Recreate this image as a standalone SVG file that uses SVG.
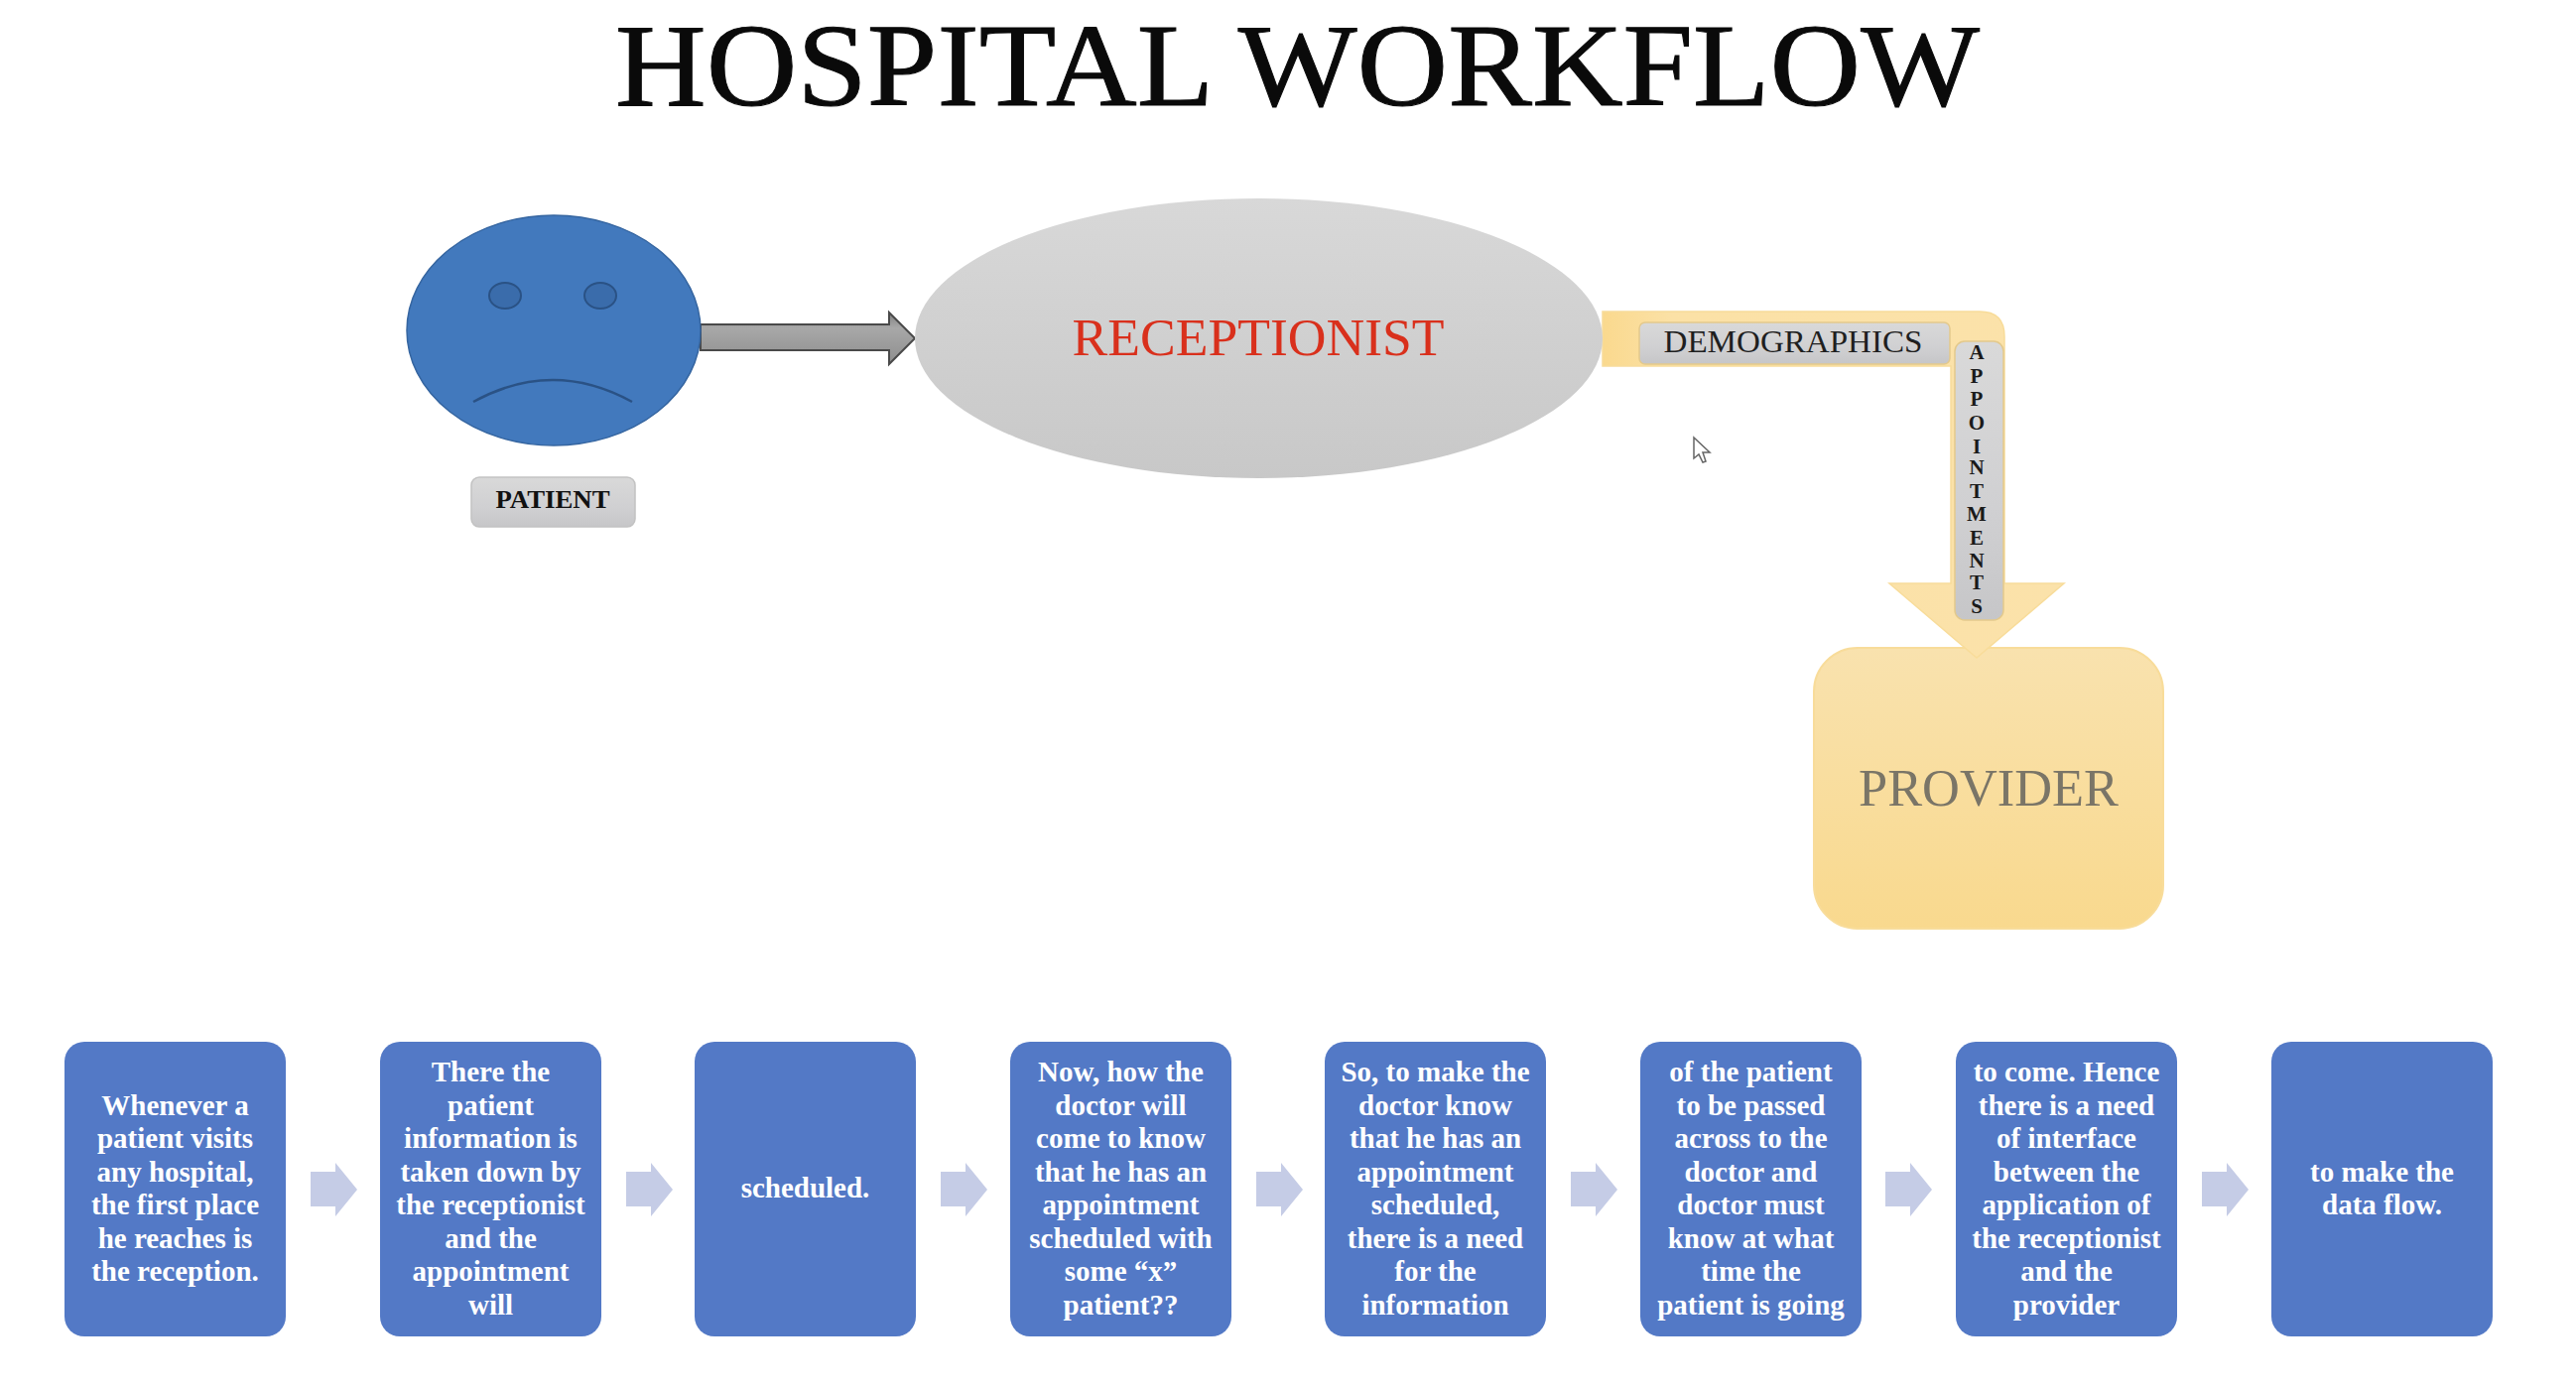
<svg xmlns="http://www.w3.org/2000/svg" width="2596" height="1400" viewBox="0 0 2596 1400">
<style>
text{font-family:"Liberation Serif","Times New Roman",serif;text-anchor:middle}
.step{fill:#5379c6}
.st{fill:#fff;font-weight:700;font-size:29px}
.chev{fill:#c5cce6}
.label{stroke:#c2c2c2;stroke-width:1.5}
.ap{font-size:21px;font-weight:700;fill:#1a1a1a}
</style>
<defs>
<linearGradient id="grey" x1="0" y1="0" x2="0" y2="1"><stop offset="0" stop-color="#d8d8d8"/><stop offset="1" stop-color="#c8c8c8"/></linearGradient>
<linearGradient id="lab" x1="0" y1="0" x2="0" y2="1"><stop offset="0" stop-color="#d9d9d9"/><stop offset=".6" stop-color="#d0d0d2"/><stop offset="1" stop-color="#c6c6c8"/></linearGradient>
<linearGradient id="gold" x1="0" y1="0" x2="0" y2="1"><stop offset="0" stop-color="#f9e2ae"/><stop offset="1" stop-color="#f9d98e"/></linearGradient>
<linearGradient id="bent" x1="0" y1="0" x2="1" y2="0"><stop offset="0" stop-color="#fad98e"/><stop offset=".15" stop-color="#fbe1a6"/><stop offset="1" stop-color="#fbe2aa"/></linearGradient>
<linearGradient id="shaft" x1="0" y1="0" x2="0" y2="1"><stop offset="0" stop-color="#808080"/><stop offset=".3" stop-color="#a8a8a8"/><stop offset="1" stop-color="#8e8e8e"/></linearGradient>
</defs>
<text x="1307.500" y="106" font-size="119" fill="#0a0a0a" stroke="#0a0a0a" stroke-width="1" textLength="1375" lengthAdjust="spacingAndGlyphs">HOSPITAL WORKFLOW</text>
<g id="provider">
<rect x="1828" y="653" width="352" height="283" rx="44" fill="url(#gold)" stroke="#f8dc9a" stroke-width="2"/>
<text x="2004" y="812" font-size="53" fill="#7a7567" textLength="262" lengthAdjust="spacingAndGlyphs">PROVIDER</text>
</g>
<g id="connectors">
<path id="patient-arrow" d="M706 327H896V315L922 341L896 367V353H706Z" fill="url(#shaft)" stroke="#4a4a4a" stroke-width="2"/>
<path id="bent-arrow" d="M1615 314H1995Q2020 314 2020 339V588H2080L1992 663L1904 588H1966V369H1615Z" fill="url(#bent)" stroke="#f8dc9a" stroke-width="1.5"/>
<path class="chev" d="M313 1181H338V1172L360 1199L338 1226V1216H313Z"/>
<path class="chev" d="M631 1181H656V1172L678 1199L656 1226V1216H631Z"/>
<path class="chev" d="M948 1181H973V1172L995 1199L973 1226V1216H948Z"/>
<path class="chev" d="M1266 1181H1291V1172L1313 1199L1291 1226V1216H1266Z"/>
<path class="chev" d="M1583 1181H1608V1172L1630 1199L1608 1226V1216H1583Z"/>
<path class="chev" d="M1900 1181H1925V1172L1947 1199L1925 1226V1216H1900Z"/>
<path class="chev" d="M2219 1181H2244V1172L2266 1199L2244 1226V1216H2219Z"/>
</g>
<g id="patient">
<ellipse cx="558" cy="333" rx="148" ry="116" fill="#4279bd" stroke="#3565a0" stroke-width="1.5"/>
<ellipse cx="509" cy="298" rx="16" ry="13" fill="#3a6cab" stroke="#2a5285" stroke-width="2"/>
<ellipse cx="605" cy="298" rx="16" ry="13" fill="#3a6cab" stroke="#2a5285" stroke-width="2"/>
<path d="M477 405Q557 361 637 405" fill="none" stroke="#2a5285" stroke-width="2.5"/>
</g>
<g id="patient-label">
<rect class="label" x="475" y="481" width="165" height="50" rx="8" fill="url(#lab)"/>
<text x="557" y="512" font-size="26" font-weight="700" fill="#111" textLength="115" lengthAdjust="spacingAndGlyphs">PATIENT</text>
</g>
<g id="receptionist">
<ellipse cx="1268.500" cy="341" rx="346.500" ry="141" fill="url(#grey)"/>
<text x="1268" y="358" font-size="53" fill="#d9301c" textLength="375" lengthAdjust="spacingAndGlyphs">RECEPTIONIST</text>
</g>
<g id="demographics">
<rect x="1652" y="325" width="313" height="42" rx="6" fill="url(#lab)" stroke="#e3c98c" stroke-width="1.5"/>
<text x="1807" y="355" font-size="31" fill="#1f1f1f" textLength="261" lengthAdjust="spacingAndGlyphs">DEMOGRAPHICS</text>
</g>
<g id="appointments">
<rect x="1970" y="344" width="49" height="281" rx="10" fill="url(#lab)" stroke="#e3c98c" stroke-width="1.5"/>
<g class="ap">
<text x="1992" y="362">A</text><text x="1992" y="386">P</text><text x="1992" y="409">P</text><text x="1992" y="433">O</text><text x="1992" y="457">I</text><text x="1992" y="478">N</text><text x="1992" y="502">T</text><text x="1992" y="525">M</text><text x="1992" y="549">E</text><text x="1992" y="572">N</text><text x="1992" y="594">T</text><text x="1992" y="618">S</text>
</g>
</g>
<g id="cursor">
<path d="M1707 441V462L1712 458L1716 466L1719 465L1716 456L1723 456Z" fill="#fff" stroke="#666" stroke-width="1.5"/>
</g>
<g id="step1">
<rect class="step" x="65" y="1050" width="223" height="297" rx="20"/>
<text class="st" x="176.500" y="1124">Whenever a</text><text class="st" x="176.500" y="1157">patient visits</text><text class="st" x="176.500" y="1191">any hospital,</text><text class="st" x="176.500" y="1224">the first place</text><text class="st" x="176.500" y="1258">he reaches is</text><text class="st" x="176.500" y="1291">the reception.</text>
</g>
<g id="step2">
<rect class="step" x="383" y="1050" width="223" height="297" rx="20"/>
<text class="st" x="494.500" y="1090">There the</text><text class="st" x="494.500" y="1124">patient</text><text class="st" x="494.500" y="1157">information is</text><text class="st" x="494.500" y="1191">taken down by</text><text class="st" x="494.500" y="1224">the receptionist</text><text class="st" x="494.500" y="1258">and the</text><text class="st" x="494.500" y="1291">appointment</text><text class="st" x="494.500" y="1325">will</text>
</g>
<g id="step3">
<rect class="step" x="700" y="1050" width="223" height="297" rx="20"/>
<text class="st" x="811.500" y="1207">scheduled.</text>
</g>
<g id="step4">
<rect class="step" x="1018" y="1050" width="223" height="297" rx="20"/>
<text class="st" x="1129.500" y="1090">Now, how the</text><text class="st" x="1129.500" y="1124">doctor will</text><text class="st" x="1129.500" y="1157">come to know</text><text class="st" x="1129.500" y="1191">that he has an</text><text class="st" x="1129.500" y="1224">appointment</text><text class="st" x="1129.500" y="1258">scheduled with</text><text class="st" x="1129.500" y="1291">some “x”</text><text class="st" x="1129.500" y="1325">patient??</text>
</g>
<g id="step5">
<rect class="step" x="1335" y="1050" width="223" height="297" rx="20"/>
<text class="st" x="1446.500" y="1090">So, to make the</text><text class="st" x="1446.500" y="1124">doctor know</text><text class="st" x="1446.500" y="1157">that he has an</text><text class="st" x="1446.500" y="1191">appointment</text><text class="st" x="1446.500" y="1224">scheduled,</text><text class="st" x="1446.500" y="1258">there is a need</text><text class="st" x="1446.500" y="1291">for the</text><text class="st" x="1446.500" y="1325">information</text>
</g>
<g id="step6">
<rect class="step" x="1653" y="1050" width="223" height="297" rx="20"/>
<text class="st" x="1764.500" y="1090">of the patient</text><text class="st" x="1764.500" y="1124">to be passed</text><text class="st" x="1764.500" y="1157">across to the</text><text class="st" x="1764.500" y="1191">doctor and</text><text class="st" x="1764.500" y="1224">doctor must</text><text class="st" x="1764.500" y="1258">know at what</text><text class="st" x="1764.500" y="1291">time the</text><text class="st" x="1764.500" y="1325">patient is going</text>
</g>
<g id="step7">
<rect class="step" x="1971" y="1050" width="223" height="297" rx="20"/>
<text class="st" x="2082.500" y="1090">to come. Hence</text><text class="st" x="2082.500" y="1124">there is a need</text><text class="st" x="2082.500" y="1157">of interface</text><text class="st" x="2082.500" y="1191">between the</text><text class="st" x="2082.500" y="1224">application of</text><text class="st" x="2082.500" y="1258">the receptionist</text><text class="st" x="2082.500" y="1291">and the</text><text class="st" x="2082.500" y="1325">provider</text>
</g>
<g id="step8">
<rect class="step" x="2289" y="1050" width="223" height="297" rx="20"/>
<text class="st" x="2400.500" y="1191">to make the</text><text class="st" x="2400.500" y="1224">data flow.</text>
</g>
</svg>
